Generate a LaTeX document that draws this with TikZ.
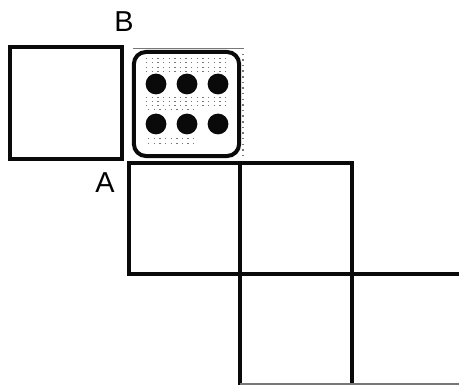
\documentclass[tikz,border=0pt]{standalone}
\usepackage{xcolor}
\usepackage{fontspec}
\setmainfont{Liberation Sans}
\usetikzlibrary{positioning}
\definecolor{inkdark}{HTML}{0A0A0A}
\definecolor{speckle}{HTML}{777777}

\begin{document}
\begin{tikzpicture}[x=0.025cm, y=-0.025cm]
  \tikzstyle{cell}=[draw=inkdark, line width=0.1cm, inner sep=0pt,
    minimum width=2.8cm, minimum height=2.8cm]
  \tikzstyle{die}=[cell, rounded corners=0.3cm, minimum width=2.63cm,
    minimum height=2.6cm]
  \tikzstyle{pip}=[circle, fill=inkdark, inner sep=0pt, minimum size=0.52cm]
  \tikzstyle{lbl}=[inner sep=0pt, font=\fontsize{20.5}{24}\selectfont]
  \tikzstyle{gridline}=[draw=inkdark, line width=0.1cm, line cap=rect]
  \tikzstyle{dots}=[speckle, line width=0.02cm, dash pattern=on 1pt off 3pt]
  \useasboundingbox (0,0) rectangle (459,385);

  % top row
  \node[cell] (blank) at (66,103) {};
  \node[die] (dice) at (186.5,104) {};
  \node[lbl] (labelB) at (124,21.5) {B};
  \node[lbl] (labelA) at (105,182.5) {A};

  % stipple on the die
  \draw[speckle, line width=0.02cm] (133,48) -- (243,48);
  \draw[dots, line width=0.05cm] (243,48) -- (243,158);
  \foreach \row in {58,62,67,71,97,101,105}
    \draw[dots] (146,\row) -- (230,\row);
  \foreach \row in {109,138,143}
    \draw[dots] (148,\row) -- (195,\row);

  % pips
  \foreach \px in {156,187,218}
    \foreach \py in {84,124}
      \node[pip] (pip\px\py) at (\px,\py) {};

  % grid below
  \coordinate (gTL) at (129,163);
  \coordinate (gTM) at (240,163);
  \coordinate (gTR) at (352,163);
  \coordinate (gML) at (129,274);
  \coordinate (gMM) at (240,274);
  \coordinate (gMR) at (352,274);
  \coordinate (gMO) at (459,274);
  \coordinate (gBM) at (240,385);
  \coordinate (gBR) at (352,385);
  \coordinate (gBO) at (459,384);

  \draw[gridline] (gTL)--(gTR);
  \draw[gridline] (gTL)--(gML);
  \draw[gridline] (gTM)--(gBM);
  \draw[gridline] (gTR)--(gBR);
  \draw[gridline] (gML)--(gMO);
  \draw[speckle, line width=0.03cm] (gBM|-gBO)--(gBO);
\end{tikzpicture}
\end{document}
